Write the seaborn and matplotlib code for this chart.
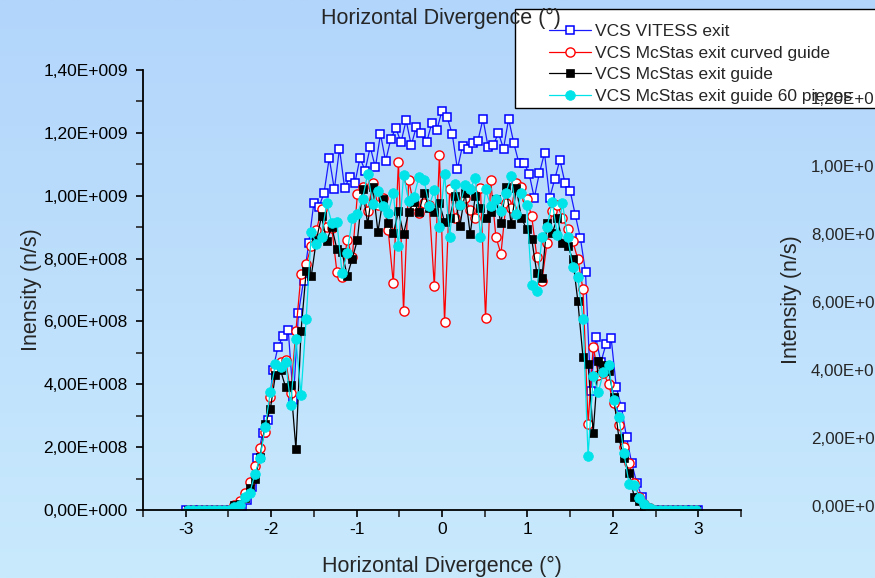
import numpy as np
import pandas as pd
import matplotlib
matplotlib.use("Agg")
import matplotlib.pyplot as plt
from matplotlib.patches import Rectangle
from matplotlib.ticker import FuncFormatter, MultipleLocator
import seaborn as sns

# ---------------- data (intensity in units of 1e8 n/s) ----------------
x_vitess = np.linspace(-3.0, 3.0, 101)
x_mcstas = np.linspace(-2.97, 2.97, 100)

vitess = [0] * 10 + [
    0.02, 0.12, 0.32, 0.73, 1.65, 2.45, 2.86, 4.45, 5.19, 5.54,
    5.73, 3.5, 6.27, 7.3, 8.5, 9.77, 9.64, 10.1, 11.2, 10.2,
    11.5, 10.25, 10.6, 10.4, 11.2, 10.8, 11.55, 10.9, 11.96, 11.1,
    11.8, 12.15, 11.7, 12.4, 11.6, 12.2, 12.0, 11.7, 12.3, 12.1,
    12.7, 12.5, 11.96, 10.85, 11.58, 11.5, 11.68, 11.75, 12.44, 11.55,
    11.6, 12.0, 11.5, 12.44, 11.68, 11.04, 11.04, 10.7, 9.93, 10.72,
    11.36, 9.93, 10.53, 11.14, 10.4, 10.15, 9.39, 8.65, 7.57, 3.8,
    5.5, 4.7, 5.28, 5.47, 3.91, 3.28, 2.32, 1.5, 0.86, 0.41,
    0.05] + [0] * 10

curved = [0] * 9 + [
    0.15, 0.3, 0.54, 0.9, 1.4, 1.97, 2.48, 3.6, 4.5, 4.7,
    4.77, 3.72, 5.7, 7.5, 7.83, 8.4, 8.9, 9.58, 9.0, 8.97,
    7.57, 7.41, 8.6, 8.05, 10.05, 10.28, 9.5, 10.4, 9.7, 9.93,
    8.9, 7.22, 11.07, 6.33, 10.5, 9.7, 9.45, 9.77, 9.7, 7.13,
    11.3, 5.98, 10.2, 9.3, 9.7, 9.93, 9.55, 9.3, 10.24, 6.1,
    10.5, 8.7, 8.15, 9.77, 9.6, 10.4, 10.28, 9.9, 9.35, 8.05,
    7.3, 8.5, 9.5, 9.7, 9.3, 8.94, 8.56, 7.98, 7.03, 2.74,
    5.2, 4.3, 4.36, 4.0, 3.4, 2.7, 2.0, 1.5, 0.86, 0.41,
    0.2, 0.05] + [0] * 9

guide = [0] * 9 + [
    0.16, 0.2, 0.38, 0.7, 0.99, 1.7, 2.73, 3.2, 4.3, 4.45,
    3.9, 3.98, 1.94, 5.7, 7.6, 7.45, 8.6, 9.35, 8.56, 9.0,
    8.3, 8.2, 7.45, 8.0, 8.6, 10.2, 9.1, 10.28, 8.85, 9.9,
    9.13, 8.8, 9.5, 8.78, 9.48, 9.8, 9.48, 10.1, 9.6, 9.48,
    9.77, 9.16, 9.3, 10.0, 9.03, 10.1, 8.78, 10.0, 9.6, 9.3,
    9.48, 9.9, 9.13, 10.28, 9.1, 10.24, 9.29, 8.94, 8.62, 7.54,
    7.38, 9.13, 8.8, 9.3, 8.5, 8.4, 8.0, 6.65, 4.87, 4.65,
    2.45, 4.74, 4.6, 4.42, 3.6, 2.3, 1.65, 1.18, 0.41, 0.3,
    0.1] + [0] * 10

pieces60 = [0] * 9 + [
    0.1, 0.16, 0.4, 0.54, 1.15, 1.65, 2.64, 3.75, 4.65, 4.55,
    4.7, 3.34, 5.44, 3.66, 6.08, 8.85, 8.46, 8.7, 9.77, 9.13,
    9.16, 7.54, 8.18, 9.29, 9.42, 9.9, 10.7, 9.74, 10.15, 9.67,
    9.45, 10.1, 8.4, 10.66, 9.83, 9.96, 10.6, 10.5, 9.67, 10.18,
    9.0, 10.7, 8.7, 10.37, 9.7, 10.34, 10.2, 10.56, 8.7, 10.2,
    9.67, 9.9, 9.5, 10.1, 10.63, 9.42, 10.1, 9.7, 7.16, 6.97,
    8.7, 9.0, 9.8, 8.75, 9.77, 8.7, 7.73, 7.4, 6.08, 1.72,
    4.26, 3.75, 4.39, 4.61, 3.5, 2.96, 1.8, 0.83, 0.8, 0.38,
    0.2, 0.05] + [0] * 9

labels = ["VCS VITESS exit", "VCS McStas exit curved guide",
          "VCS McStas exit guide", "VCS McStas exit guide 60 pieces"]
x_ticks = [-3, -2, -1, 0, 1, 2, 3]
y_ticks = [0, 2e8, 4e8, 6e8, 8e8, 1.0e9, 1.2e9, 1.4e9]
# labels of the neighbouring (cropped) chart, as visible at the right edge
right_labels = ["1,20E+0", "1,00E+0", "8,00E+0", "6,00E+0",
                "4,00E+0", "2,00E+0", "0,00E+0"]

# ---------------- style ----------------
sns.set_style("ticks")
plt.rcParams["font.family"] = ["Liberation Sans", "DejaVu Sans"]

W, H = 875, 578
fig = plt.figure(figsize=(W / 100, H / 100), dpi=100)

# gradient background
bg = fig.add_axes([0, 0, 1, 1], zorder=-10)
top_c = np.array([0xB2, 0xD5, 0xFB]) / 255
bot_c = np.array([0xC9, 0xEA, 0xFD]) / 255
t = np.linspace(0, 1, 256)[:, None]
grad = top_c[None, :] * (1 - t) + bot_c[None, :] * t
bg.imshow(grad[:, None, :], aspect="auto", extent=[0, 1, 0, 1])
bg.set_axis_off()

ax = fig.add_axes([143 / W, 1 - 510 / H, (741 - 143) / W, (510 - 70) / H])
ax.set_facecolor("none")

frames = {
    labels[0]: pd.DataFrame({"x": x_vitess, "y": np.array(vitess) * 1e8}),
    labels[1]: pd.DataFrame({"x": x_mcstas, "y": np.array(curved) * 1e8}),
    labels[2]: pd.DataFrame({"x": x_mcstas, "y": np.array(guide) * 1e8}),
    labels[3]: pd.DataFrame({"x": x_mcstas, "y": np.array(pieces60) * 1e8}),
}
styles = {
    labels[0]: dict(color="#1a1aff", marker="s", markersize=6.3,
                    markerfacecolor="white", markeredgecolor="#0000ff",
                    markeredgewidth=1.1),
    labels[1]: dict(color="#ff0000", marker="o", markersize=6.6,
                    markerfacecolor="white", markeredgecolor="#ff0000",
                    markeredgewidth=1.0),
    labels[2]: dict(color="#000000", marker="s", markersize=5.8,
                    markerfacecolor="black", markeredgecolor="black",
                    markeredgewidth=0.5),
    labels[3]: dict(color="#00e3e8", marker="o", markersize=7.0,
                    markerfacecolor="#00e3e8", markeredgecolor="#00e3e8",
                    markeredgewidth=0.5),
}
for lab in labels:
    sns.lineplot(data=frames[lab], x="x", y="y", ax=ax, sort=False,
                 estimator=None, label=lab, linewidth=0.9, **styles[lab])

ax.set_xlim(-3.5, 3.5)
ax.set_ylim(0, 1.4e9)
ax.set_xticks(x_ticks)
ax.set_yticks(y_ticks)
ax.xaxis.set_minor_locator(MultipleLocator(0.5))
ax.yaxis.set_minor_locator(MultipleLocator(1e8))


def sci_comma(v, pos):
    if v == 0:
        return "0,00E+000"
    e = int(np.floor(np.log10(abs(v))))
    m = v / 10 ** e
    return f"{m:.2f}".replace(".", ",") + f"E+{e:03d}"


ax.yaxis.set_major_formatter(FuncFormatter(sci_comma))
ax.xaxis.set_major_formatter(FuncFormatter(lambda v, p: f"{v:g}"))
sns.despine(ax=ax)
for s in ["left", "bottom"]:
    ax.spines[s].set_linewidth(1.3)
    ax.spines[s].set_color("black")
ax.tick_params(axis="both", which="major", direction="out", length=5,
               width=1.2, labelsize=12.5, colors="black")
ax.tick_params(axis="both", which="minor", direction="out", length=5,
               width=1.2)
ax.tick_params(axis="x", pad=4)
ax.tick_params(axis="y", pad=6)
ax.set_xlabel("Horizontal Divergence (°)", fontsize=15.5, labelpad=13)
ax.set_ylabel("Inensity (n/s)", fontsize=15.5, labelpad=1)
ax.get_legend().remove()

# legend box (extends past the right edge)
rect = Rectangle((515 / W, 1 - 108 / H), 370 / W, 99 / H,
                 transform=fig.transFigure, facecolor="white",
                 edgecolor="black", linewidth=1.0, zorder=4)
fig.add_artist(rect)
handles, labs = ax.get_legend_handles_labels()
leg = fig.legend(handles, labs, loc="upper left",
                 bbox_to_anchor=(549 / W, 1 - 24 / H),
                 bbox_transform=fig.transFigure, frameon=False,
                 fontsize=12.5, handlelength=2.4, handletextpad=0.25,
                 borderpad=0, borderaxespad=0, labelspacing=0.37)
leg.set_zorder(5)

# title-like text on top
fig.text(441 / W, 1 - 18 / H, "Horizontal Divergence (°)", ha="center",
         va="center", fontsize=15.5, zorder=10)

# second (cropped) chart axis labels at the right edge
for i, txt in enumerate(right_labels):
    yy = 100 + 68 * i
    fig.text(811 / W, 1 - yy / H, txt, ha="left", va="center",
             fontsize=12.2, zorder=10)
fig.text(792 / W, 1 - 300 / H, "Intensity (n/s)", rotation=90,
         ha="center", va="center", fontsize=15.5, zorder=10)

fig.savefig("out.png", dpi=100)
